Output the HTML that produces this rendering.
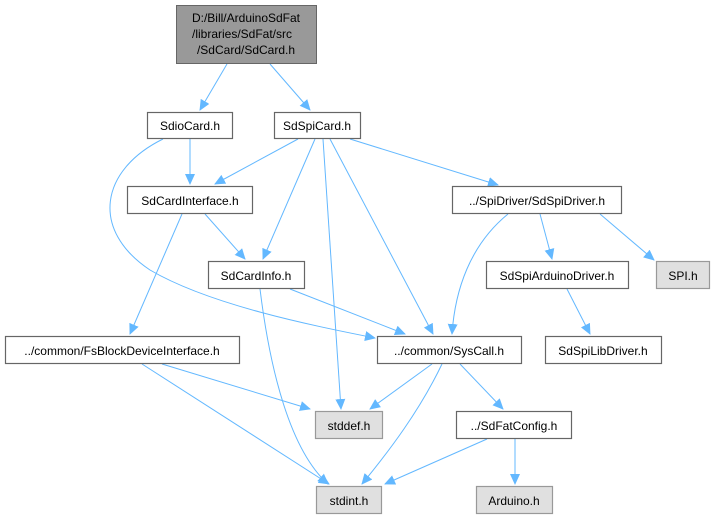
<!DOCTYPE html>
<html><head><style>
body{margin:0;background:#fff;}
svg{display:block;}
text{font-family:"Liberation Sans",Arial,sans-serif;font-size:12px;fill:#000;}
.n{fill:#fff;stroke:#666;stroke-width:1.2;}
.g{fill:#e0e0e0;stroke:#999;stroke-width:1.2;}
.e{fill:none;stroke:#63b8ff;stroke-width:1;}
</style></head><body>
<svg width="711" height="517" viewBox="0 0 711 517">
<defs><marker id="a" markerWidth="11" markerHeight="10" refX="10" refY="5" orient="auto" markerUnits="userSpaceOnUse"><path d="M0,0 L11,5 L0,10 z" fill="#63b8ff"/></marker></defs>
<g marker-end="url(#a)">
<path class="e" d="M227,64 L200,110"/>
<path class="e" d="M270,64 L310,110"/>
<path class="e" d="M190,139 L190,184"/>
<path class="e" d="M163,139 C100,170 90,230 150,270 C210,305 310,325 375,338"/>
<path class="e" d="M298,139 L215,184"/>
<path class="e" d="M315,139 L263,259"/>
<path class="e" d="M323,139 L341,409"/>
<path class="e" d="M330,139 L433,334"/>
<path class="e" d="M350,139 L498,185"/>
<path class="e" d="M182,214 L130,334"/>
<path class="e" d="M205,214 L245,259"/>
<path class="e" d="M290,289 L405,334"/>
<path class="e" d="M260,289 C270,370 290,450 328,484"/>
<path class="e" d="M508,214 C470,245 455,290 452,334"/>
<path class="e" d="M540,214 L552,259"/>
<path class="e" d="M600,214 L654,260"/>
<path class="e" d="M567,289 L590,334"/>
<path class="e" d="M162,364 L310,409"/>
<path class="e" d="M142,364 L329,484"/>
<path class="e" d="M432,364 L370,409"/>
<path class="e" d="M442,364 C420,410 390,450 362,484"/>
<path class="e" d="M460,364 L503,409"/>
<path class="e" d="M487,439 L385,484"/>
<path class="e" d="M515,439 L515,484"/>
</g>
<rect x="176.5" y="5.5" width="140" height="58" fill="#999" stroke="#666"/>
<text x="246" y="22" text-anchor="middle">D:/Bill/ArduinoSdFat</text>
<text x="242" y="38" text-anchor="middle">/libraries/SdFat/src</text>
<text x="246" y="54" text-anchor="middle">/SdCard/SdCard.h</text>
<rect class="n" x="147.5" y="112.5" width="85" height="26"/><text x="190" y="130" text-anchor="middle">SdioCard.h</text>
<rect class="n" x="274.5" y="112.5" width="86" height="26"/><text x="317" y="130" text-anchor="middle">SdSpiCard.h</text>
<rect class="n" x="127.5" y="186.5" width="125" height="27"/><text x="190" y="205" text-anchor="middle">SdCardInterface.h</text>
<rect class="n" x="452.5" y="186.5" width="169" height="27"/><text x="537" y="205" text-anchor="middle">../SpiDriver/SdSpiDriver.h</text>
<rect class="n" x="208.5" y="261.5" width="96" height="27"/><text x="256" y="280" text-anchor="middle">SdCardInfo.h</text>
<rect class="n" x="486.5" y="261.5" width="142" height="27"/><text x="557" y="280" text-anchor="middle">SdSpiArduinoDriver.h</text>
<rect class="g" x="656.5" y="261.5" width="53" height="27"/><text x="683" y="280" text-anchor="middle">SPI.h</text>
<rect class="n" x="5.5" y="336.5" width="234" height="27"/><text x="122" y="355" text-anchor="middle">../common/FsBlockDeviceInterface.h</text>
<rect class="n" x="377.5" y="336.5" width="144" height="27"/><text x="449" y="355" text-anchor="middle">../common/SysCall.h</text>
<rect class="n" x="545.5" y="336.5" width="116" height="27"/><text x="603" y="355" text-anchor="middle">SdSpiLibDriver.h</text>
<rect class="g" x="315.5" y="411.5" width="67" height="27"/><text x="349" y="430" text-anchor="middle">stddef.h</text>
<rect class="n" x="456.5" y="411.5" width="115" height="27"/><text x="514" y="430" text-anchor="middle">../SdFatConfig.h</text>
<rect class="g" x="316.5" y="486.5" width="65" height="27"/><text x="349" y="505" text-anchor="middle">stdint.h</text>
<rect class="g" x="476.5" y="486.5" width="76" height="27"/><text x="514" y="505" text-anchor="middle">Arduino.h</text>
</svg>
</body></html>
